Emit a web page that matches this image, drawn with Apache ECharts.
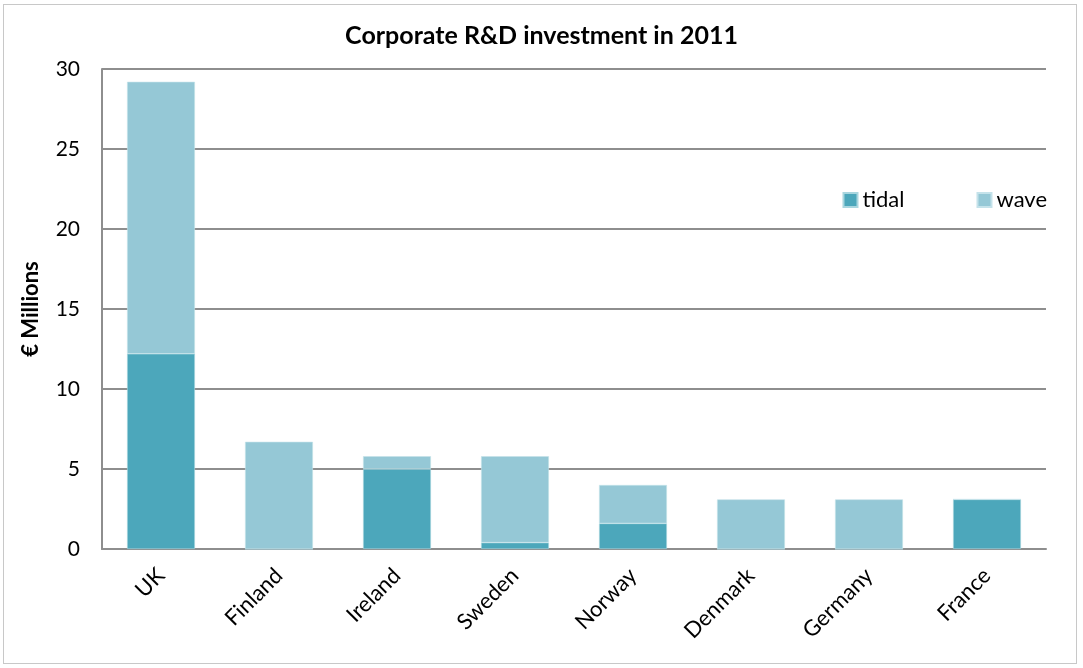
<!DOCTYPE html>
<html>
<head>
<meta charset="utf-8">
<script src="https://cdn.jsdelivr.net/npm/echarts@6/dist/echarts.min.js"></script>
<style>
  html, body { margin: 0; padding: 0; background: #fff; }
  #frame { position: absolute; left: 3px; top: 4px; width: 1074px; height: 660px; border: 1px solid #c8c8c8; box-sizing: border-box; }
  #chart { width: 1083px; height: 668px; position: absolute; left: 0; top: 0; }
</style>
</head>
<body>
<div id="frame"></div>
<div id="chart"></div>
<script>
// Corporate R&D investment in ocean energy, 2011 (€ millions)
const countries = ['UK', 'Finland', 'Ireland', 'Sweden', 'Norway', 'Denmark', 'Germany', 'France'];
const tidal = [12.2, 0, 5.0, 0.4, 1.6, 0, 0, 3.1];
const wave = [17.0, 6.7, 0.8, 5.4, 2.4, 3.1, 3.1, 0];
const yTicks = [0, 5, 10, 15, 20, 25, 30];

const font = 'Lato, "Open Sans", sans-serif';
const chart = echarts.init(document.getElementById('chart'), null, { renderer: 'canvas' });

chart.setOption({
  animation: false,
  title: {
    text: 'Corporate R&D investment in 2011',
    left: 'center',
    top: 18,
    textStyle: { fontFamily: font, fontSize: 25, fontWeight: 'bold', color: '#000' }
  },
  legend: {
    right: 31,
    top: 184,
    itemWidth: 14,
    itemHeight: 14,
    itemGap: 72,
    icon: 'rect',
    textStyle: { fontFamily: font, fontSize: 22, color: '#000' },
    data: ['tidal', 'wave']
  },
  grid: { left: 102, right: 37, top: 69, bottom: 119 },
  xAxis: {
    type: 'category',
    data: countries,
    axisLine: { lineStyle: { color: '#8e8e8e', width: 2 } },
    axisTick: { show: false },
    axisLabel: {
      rotate: 45,
      margin: 23,
      fontFamily: font,
      fontSize: 22,
      color: '#000'
    }
  },
  yAxis: {
    type: 'value',
    min: yTicks[0],
    max: yTicks[yTicks.length - 1],
    interval: 5,
    name: '€ Millions',
    nameLocation: 'middle',
    nameGap: 60,
    nameTextStyle: { fontFamily: font, fontSize: 22, fontWeight: 'bold', color: '#000' },
    axisLine: { show: true, lineStyle: { color: '#8e8e8e', width: 2 } },
    axisTick: { show: false },
    axisLabel: { fontFamily: font, fontSize: 21, color: '#000', margin: 22 },
    splitLine: { lineStyle: { color: '#8e8e8e', width: 2 } }
  },
  series: [
    {
      name: 'tidal',
      type: 'bar',
      stack: 'total',
      barWidth: '57.5%',
      data: tidal,
      itemStyle: { color: '#4ca7bb', borderColor: '#a9d6df', borderWidth: 0.6 }
    },
    {
      name: 'wave',
      type: 'bar',
      stack: 'total',
      data: wave,
      itemStyle: { color: '#95c8d6', borderColor: '#c4e2ea', borderWidth: 0.6 }
    }
  ]
});
</script>
</body>
</html>
